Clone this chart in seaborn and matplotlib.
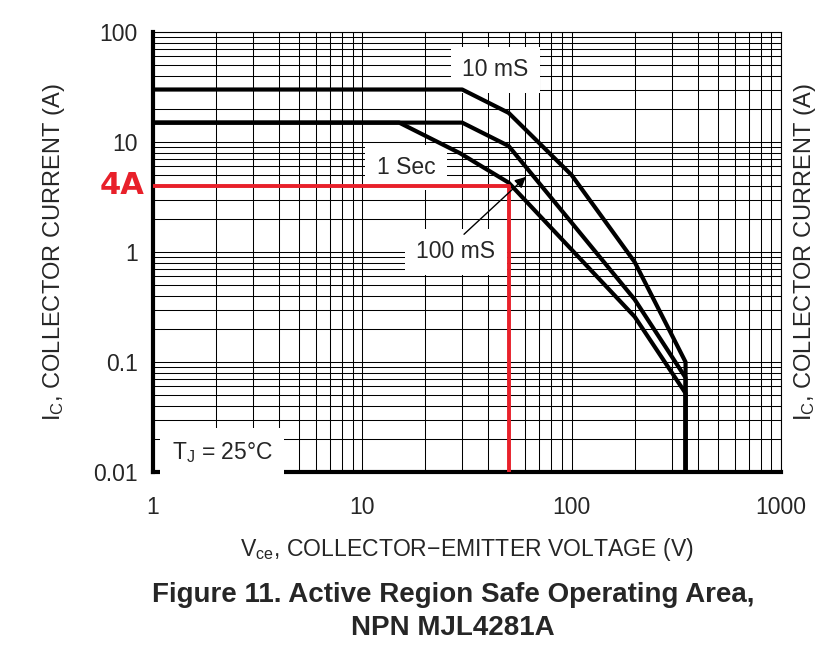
import numpy as np
import pandas as pd
import matplotlib
matplotlib.use('Agg')
import matplotlib.pyplot as plt
import matplotlib.ticker as mticker
import matplotlib.transforms as mtransforms
import seaborn as sns

# curvas de SOA (Vce em V, Ic em A)
v_10ms = [1, 30, 50, 100, 200, 350, 350]
i_10ms = [30, 30, 18.4, 5.0, 0.81, 0.1, 0.01]

v_100ms = [1, 30, 50, 200, 350, 350]
i_100ms = [15, 15, 9.2, 0.37, 0.072, 0.01]

v_1s = [1, 15, 29.3, 50, 200, 350, 350]
i_1s = [15, 15, 7.9, 4.27, 0.258, 0.052, 0.01]

# ponto de operacao marcado em vermelho
v_red = [1, 50, 50]
i_red = [4, 4, 0.01]

x_ticks = [1, 10, 100, 1000]
x_labels = ['1', '10', '100', '1000']
y_ticks = [0.01, 0.1, 1, 10, 100]
y_labels = ['0.01', '0.1', '1', '10', '100']

df = pd.concat([
    pd.DataFrame({'V': v_10ms, 'I': i_10ms, 'curva': '10 mS'}),
    pd.DataFrame({'V': v_100ms, 'I': i_100ms, 'curva': '100 mS'}),
    pd.DataFrame({'V': v_1s, 'I': i_1s, 'curva': '1 Sec'}),
], ignore_index=True)

sns.set_style('white')
plt.rcParams['font.family'] = ['Liberation Sans', 'DejaVu Sans']
plt.rcParams['mathtext.fontset'] = 'custom'
plt.rcParams['mathtext.rm'] = 'Liberation Sans'
plt.rcParams['mathtext.it'] = 'Liberation Sans:italic'
plt.rcParams['mathtext.bf'] = 'Liberation Sans:bold'

fig = plt.figure(figsize=(8.37, 6.58), dpi=100)
ax = fig.add_axes([153 / 837, 1 - 472 / 658, 628 / 837, 440 / 658])

ax.set(xscale='log', yscale='log')
ax.set_xlim(1, 1000)
ax.set_ylim(0.01, 100)

sns.lineplot(data=df, x='V', y='I', hue='curva', palette=['black'] * 3,
             estimator=None, sort=False, legend=False, lw=3, ax=ax, zorder=4)
ax.plot(v_red, i_red, color='#e8202a', lw=2.8, zorder=5, solid_capstyle='butt')

ax.xaxis.set_major_locator(mticker.FixedLocator(x_ticks))
ax.xaxis.set_major_formatter(mticker.FixedFormatter(x_labels))
ax.yaxis.set_major_locator(mticker.FixedLocator(y_ticks))
ax.yaxis.set_major_formatter(mticker.FixedFormatter(y_labels))
ax.xaxis.set_minor_locator(mticker.LogLocator(base=10, subs=np.arange(2, 10), numticks=20))
ax.yaxis.set_minor_locator(mticker.LogLocator(base=10, subs=np.arange(2, 10), numticks=20))
ax.xaxis.set_minor_formatter(mticker.NullFormatter())
ax.yaxis.set_minor_formatter(mticker.NullFormatter())
ax.tick_params(which='both', length=0)
ax.tick_params(axis='x', pad=17.5, labelsize=16.5)
ax.tick_params(axis='y', pad=11, labelsize=16.5)

ax.grid(which='both', color='black', lw=0.75)
ax.set_axisbelow(True)

for s in ['left', 'bottom']:
    ax.spines[s].set_linewidth(3)
    ax.spines[s].set_color('black')
for s in ['top', 'right']:
    ax.spines[s].set_linewidth(0.8)
    ax.spines[s].set_color('black')

ax.set_xlabel(r'V$_{\rm ce}$, COLLECTOR$-$EMITTER VOLTAGE (V)', fontsize=16.6, labelpad=12)
ax.set_ylabel(r'I$_{\rm C}$, COLLECTOR CURRENT (A)', fontsize=17, labelpad=19)
ax2 = ax.twinx()
ax2.set_yscale('log')
ax2.set_ylim(0.01, 100)
ax2.set_yticks([])
ax2.yaxis.set_minor_locator(mticker.NullLocator())
ax2.set_ylabel(r'I$_{\rm C}$, COLLECTOR CURRENT (A)', fontsize=17, labelpad=8)
for s in ax2.spines.values():
    s.set_visible(False)

box = dict(boxstyle='square,pad=0.5', fc='white', ec='none')
ax.text(0.545, 0.914, '10 mS', transform=ax.transAxes, ha='center', va='center',
        fontsize=16.5, bbox=box, zorder=3)
ax.text(0.403, 0.692, '1 Sec', transform=ax.transAxes, ha='center', va='center',
        fontsize=16.5, bbox=box, zorder=3)
ax.text(0.482, 0.500, '100 mS', transform=ax.transAxes, ha='center', va='center',
        fontsize=16.5, bbox=box, zorder=3)
ax.text(0.110, 0.045, r'T$_{\rm J}$ = 25$\degree$C', transform=ax.transAxes,
        ha='center', va='center', fontsize=16.5, bbox=box, zorder=3)
ax.annotate('', xy=(0.597, 0.675), xytext=(0.492, 0.536), xycoords='axes fraction',
            arrowprops=dict(arrowstyle='-|>', color='black', lw=1, mutation_scale=16),
            zorder=6)

trans = mtransforms.blended_transform_factory(ax.transAxes, ax.transData)
ax.text(-0.049, 4, '4A', transform=trans, ha='center', va='center', color='#e8202a',
        fontsize=22, fontweight='bold', family='DejaVu Sans')

fig.text(453 / 837, 1 - 595 / 658, 'Figure 11. Active Region Safe Operating Area,',
         ha='center', va='center', fontsize=20, fontweight='bold')
fig.text(453 / 837, 1 - 628 / 658, 'NPN MJL4281A',
         ha='center', va='center', fontsize=20, fontweight='bold')

fig.savefig('out.png', dpi=100, facecolor='white')
